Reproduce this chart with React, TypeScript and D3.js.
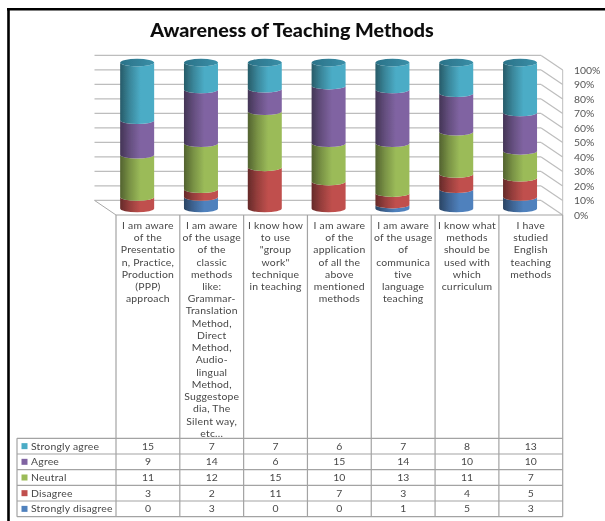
import React from 'react';
import * as d3 from 'd3';

const categoryLines = [
  ['I am aware', 'of the', 'Presentatio', 'n, Practice,', 'Production', '(PPP)', 'approach'],
  ['I am aware', 'of the usage', 'of the', 'classic', 'methods', 'like:', 'Grammar-', 'Translation', 'Method,', 'Direct', 'Method,', 'Audio-', 'lingual', 'Method,', 'Suggestope', 'dia, The', 'Silent way,', 'etc...'],
  ['I know how', 'to use', '"group', 'work"', 'technique', 'in teaching'],
  ['I am aware', 'of the', 'application', 'of all the', 'above', 'mentioned', 'methods'],
  ['I am aware', 'of the usage', 'of', 'communica', 'tive', 'language', 'teaching'],
  ['I know what', 'methods', 'should be', 'used with', 'which', 'curriculum'],
  ['I have', 'studied', 'English', 'teaching', 'methods'],
];

const seriesNames = ['Strongly disagree', 'Disagree', 'Neutral', 'Agree', 'Strongly agree'];
const stronglyDisagree = [0, 3, 0, 0, 1, 5, 3];
const disagree = [3, 2, 11, 7, 3, 4, 5];
const neutral = [11, 12, 15, 10, 13, 11, 7];
const agree = [9, 14, 6, 15, 14, 10, 10];
const stronglyAgree = [15, 7, 7, 6, 7, 8, 13];
const seriesValues = [stronglyDisagree, disagree, neutral, agree, stronglyAgree];
const seriesColors = ['#4f81bd', '#c0504d', '#9bbb59', '#8064a2', '#4bacc6'];

const title = 'Awareness of Teaching Methods';
const font = 'Lato, sans-serif';

const width = 605;
const height = 521;
const tableLeft = 17;
const tableX0 = 116;
const tableX1 = 562.7;
const rowsTop = 438.3;
const rowsBottom = 516.7;
const frontBottom = 215;
const frontTop = 70;
const depthX = -21.5;
const depthY = -14.6;
const cylWidth = 34;
const ry = 3.8;
const textSize = 10.4;
const textSpacing = 0.22;
const textColor = '#474747';

const rows = d3.range(categoryLines.length).map((i) => {
  const row: Record<string, number> = { index: i };
  seriesNames.forEach((name, s) => { row[name] = seriesValues[s][i]; });
  return row;
});
const stacked = d3.stack<Record<string, number>>().keys(seriesNames).offset(d3.stackOffsetExpand)(rows);

const x = d3.scaleBand<number>().domain(d3.range(categoryLines.length)).range([tableX0, tableX1]);
const y = d3.scaleLinear().domain([0, 1]).range([frontBottom, frontTop]);
const cylY = d3.scaleLinear().domain([0, 1]).range([208.5, 62.6]);
const rowY = d3.scaleBand<string>().domain([...seriesNames].reverse()).range([rowsTop, rowsBottom]);
const ticks = y.ticks(10);
const pct = d3.format('.0%');

const segmentPath = (cx: number, top: number, bottom: number) => {
  const l = cx - cylWidth / 2;
  const r = cx + cylWidth / 2;
  return `M${l},${top}A${cylWidth / 2},${ry} 0 0 0 ${r},${top}L${r},${bottom}A${cylWidth / 2},${ry} 0 0 1 ${l},${bottom}Z`;
};

const App = () => {
  const lineColor = '#a3a3a3';
  return (
    <svg width={width} height={height} style={{ position: 'absolute', left: 0, top: 0, background: '#fff' }}>
      <defs>
        <filter id="soft" x="0" y="0" width="100%" height="100%">
          <feGaussianBlur stdDeviation="0.45" />
        </filter>
        {seriesColors.map((c, i) => (
          <linearGradient key={c} id={`cyl${i}`} x1="0" x2="1" y1="0" y2="0">
            <stop offset="0%" stopColor={d3.rgb(c).darker(1.8).formatHex()} />
            <stop offset="28%" stopColor={d3.rgb(c).darker(0.7).formatHex()} />
            <stop offset="60%" stopColor={c} />
            <stop offset="100%" stopColor={c} />
          </linearGradient>
        ))}
        <linearGradient id="capTop" x1="0" x2="1" y1="0" y2="0">
          <stop offset="0%" stopColor="#2a7288" />
          <stop offset="100%" stopColor="#3a8fa8" />
        </linearGradient>
      </defs>

      <g filter="url(#soft)">
        <line x1={8.5} x2={8.5} y1={8} y2={521} stroke="#000" strokeWidth={2.6} />
        <line x1={7} x2={width} y1={9.3} y2={9.3} stroke="#000" strokeWidth={2.6} />

        <text x={292} y={36.5} textAnchor="middle" fontFamily={font} fontWeight={900} fontSize={19.7} fill="#111">{title}</text>

        {/* back wall and side wall */}
        {ticks.map((t) => (
          <g key={t} stroke="#bdbdbd" strokeWidth={1.2}>
            <line x1={tableX0 + depthX} x2={tableX1 + depthX} y1={y(t) + depthY} y2={y(t) + depthY} />
            <line x1={tableX1 + depthX} x2={tableX1} y1={y(t) + depthY} y2={y(t)} />
          </g>
        ))}
        <line x1={tableX0 + depthX} x2={tableX0} y1={y(0) + depthY} y2={y(0)} stroke="#a8a8a8" />
        <line x1={tableX1} x2={tableX1} y1={frontTop} y2={frontBottom} stroke="#bdbdbd" />

        {/* cylinders */}
        {categoryLines.map((_, i) => {
          const cx = x(i)! + x.bandwidth() / 2 + depthX / 2;
          return (
            <g key={i}>
              {stacked.map((layer, s) => {
                const [v0, v1] = layer[i];
                if (v1 - v0 === 0) return null;
                return <path key={s} d={segmentPath(cx, cylY(v1), cylY(v0))} fill={`url(#cyl${s})`} />;
              })}
              <ellipse cx={cx} cy={cylY(1)} rx={cylWidth / 2} ry={ry} fill="url(#capTop)" />
            </g>
          );
        })}

        {/* axis labels */}
        {ticks.map((t) => (
          <text key={t} x={574} y={y(t) + 3.6} fontFamily={font} fontSize={10.4} fill="#555">{pct(t)}</text>
        ))}

        {/* data table */}
        {x.domain().concat(categoryLines.length).map((i) => {
          const px = i < categoryLines.length ? x(i)! : tableX1;
          return <line key={i} x1={px} x2={px} y1={frontBottom} y2={rowsBottom} stroke={lineColor} strokeWidth={1.2} />;
        })}
        <line x1={tableX0} x2={tableX1} y1={frontBottom} y2={frontBottom} stroke={lineColor} strokeWidth={1.2} />
        <line x1={tableLeft} x2={tableLeft} y1={rowsTop} y2={rowsBottom} stroke={lineColor} strokeWidth={1.2} />
        {rowY.domain().map((name) => (
          <line key={name} x1={tableLeft} x2={tableX1} y1={rowY(name)} y2={rowY(name)} stroke={lineColor} strokeWidth={1.2} />
        ))}
        <line x1={tableLeft} x2={tableX1} y1={rowsBottom} y2={rowsBottom} stroke={lineColor} strokeWidth={1.2} />

        {categoryLines.map((lines, i) => (
          <text key={i} textAnchor="middle" fontFamily={font} fontSize={textSize} letterSpacing={textSpacing} fill={textColor}>
            {lines.map((l, k) => (
              <tspan key={k} x={x(i)! + x.bandwidth() / 2} y={228.8 + k * 12.24}>{l}</tspan>
            ))}
          </text>
        ))}

        {seriesNames.map((name, s) => {
          const cy = rowY(name)! + rowY.bandwidth() / 2;
          return (
            <g key={name}>
              <rect x={21.5} y={cy - 3} width={6} height={6} fill={seriesColors[s]} />
              <text x={31} y={cy + 3.4} fontFamily={font} fontSize={textSize} letterSpacing={textSpacing} fill={textColor}>{name}</text>
              {seriesValues[s].map((v, i) => (
                <text key={i} x={x(i)! + x.bandwidth() / 2} y={cy + 3.4} textAnchor="middle" fontFamily={font} fontSize={textSize} fill={textColor}>{v}</text>
              ))}
            </g>
          );
        })}
      </g>
    </svg>
  );
};

export default App;
